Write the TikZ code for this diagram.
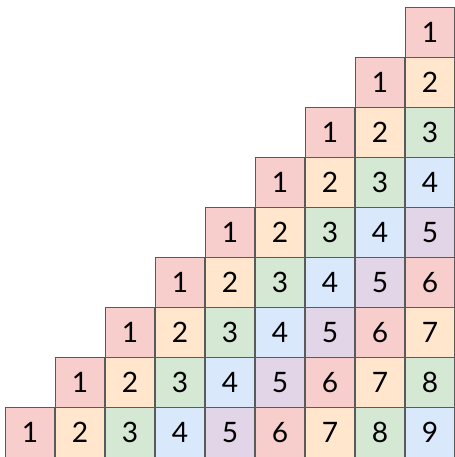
\documentclass[tikz,border=0pt]{standalone}
\usepackage{fontspec}
\setmainfont{Lato}
\definecolor{cA}{HTML}{F8CECC}
\definecolor{cB}{HTML}{FFE6CC}
\definecolor{cC}{HTML}{D5E8D4}
\definecolor{cD}{HTML}{DAE8FC}
\definecolor{cE}{HTML}{E1D5E7}
\definecolor{edge}{HTML}{5A5A5A}
\begin{document}
\begin{tikzpicture}[x=0.02cm,y=-0.02cm,
  cell/.style={draw=edge,line width=0.5pt,minimum width=1cm,minimum height=1cm,inner sep=0pt,
    anchor=north west,font=\fontsize{16}{16}\selectfont,text=black}]
\useasboundingbox (0,0) rectangle (454,457);
\foreach \r in {0,...,8}{
  \foreach \c in {0,...,8}{
    \pgfmathtruncatemacro{\v}{\c-(8-\r)+1}
    \ifnum\v>0
      \pgfmathtruncatemacro{\k}{mod(\v-1,5)}
      \ifcase\k \def\fc{cA}\or \def\fc{cB}\or \def\fc{cC}\or \def\fc{cD}\or \def\fc{cE}\fi
      \node[cell,fill=\fc] (n-\r-\c) at ({4.5+50*\c},{7+50*\r}) {\v};
    \fi
  }
}
\end{tikzpicture}
\end{document}
